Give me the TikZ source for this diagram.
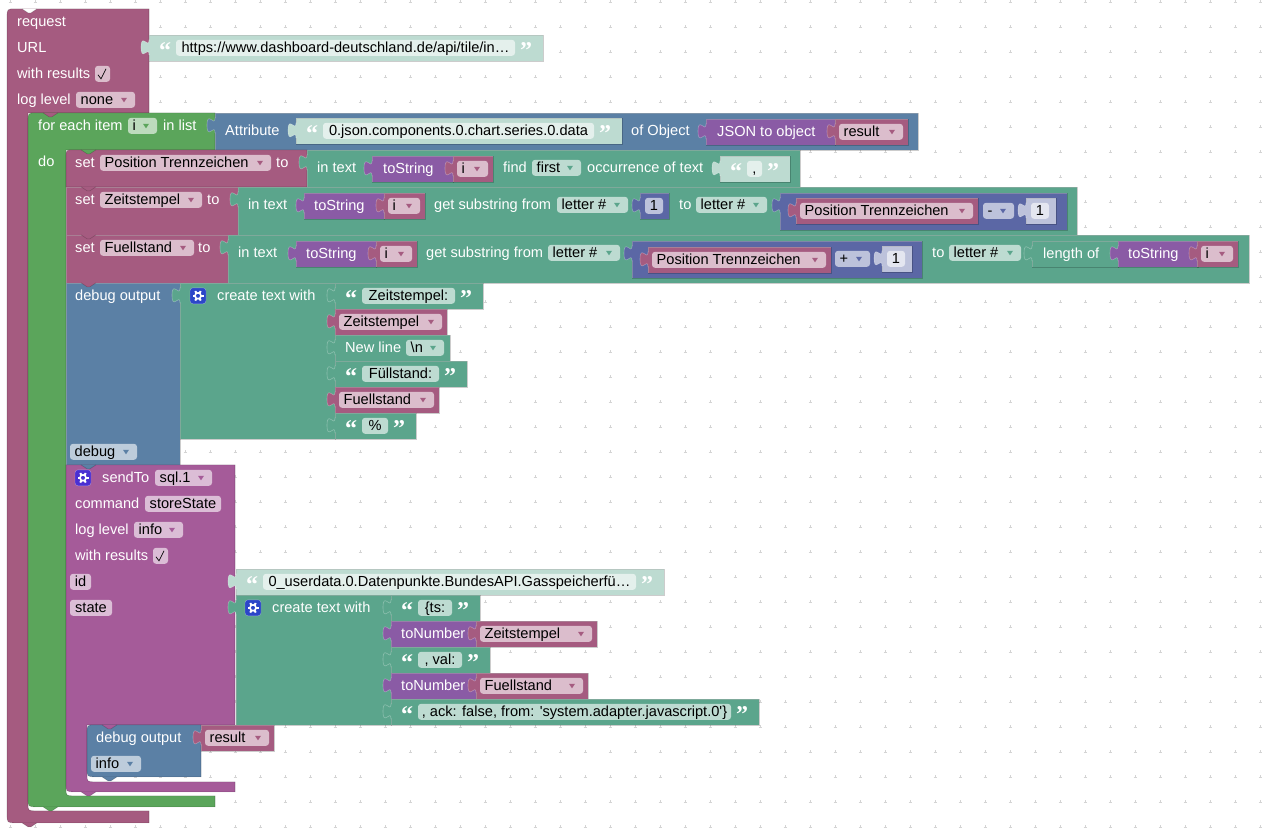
\documentclass[tikz,border=0pt]{standalone}
\usepackage{xcolor}
\usepackage{fontspec}
\setmainfont{Liberation Sans}
\newfontfamily\quotefont{Liberation Serif}
\usepackage{tikz}
\usetikzlibrary{calc}

\definecolor{varcol}{HTML}{A55B80}
\definecolor{varlight}{HTML}{DBBDCC}
\definecolor{loopcol}{HTML}{5BA55B}
\definecolor{looplight}{HTML}{BDDBBD}
\definecolor{txtcol}{HTML}{5BA58C}
\definecolor{txtlight}{HTML}{BDDBD1}
\definecolor{txtpale}{HTML}{E4F0EC}
\definecolor{mathcol}{HTML}{5B67A5}
\definecolor{mathlight}{HTML}{BDC2DB}
\definecolor{mathpale}{HTML}{E4E6F0}
\definecolor{dbgcol}{HTML}{5B80A5}
\definecolor{dbglight}{HTML}{BDCCDB}
\definecolor{sendcol}{HTML}{A55B99}
\definecolor{sendlight}{HTML}{DBBDD6}
\definecolor{funccol}{HTML}{8A5BA5}
\definecolor{gridcol}{HTML}{D4D4D4}
\definecolor{gearblue}{HTML}{2C46C8}
\definecolor{gearviolet}{HTML}{4A2FD2}

\begin{document}
\begin{tikzpicture}[x=1pt,y=-1pt]

		\tikzstyle{every node} = [inner sep=0pt, text height=10pt, text depth=0pt, font=\fontsize{14.6}{16}\selectfont]
		\tikzstyle{lab}     = [anchor=west, text=white]
		\tikzstyle{ink}     = [text=black]
		\tikzstyle{qmark}   = [anchor=west, text=white, font=\quotefont\bfseries\fontsize{24}{24}\selectfont]
		\tikzstyle{rim}     = [draw=black, draw opacity=.2, line width=.6pt]
		\tikzstyle{lit}     = [draw=white, draw opacity=.3, line width=.6pt]
		\tikzstyle{griddot} = [draw=gridcol, line width=.6pt]
		\tikzstyle{varblk}  = [fill=varcol]
		\tikzstyle{varfld}  = [fill=varlight]
		\tikzstyle{loopblk} = [fill=loopcol]
		\tikzstyle{loopfld} = [fill=looplight]
		\tikzstyle{txtblk}  = [fill=txtcol]
		\tikzstyle{txtfld}  = [fill=txtlight]
		\tikzstyle{strblk}  = [fill=txtlight]
		\tikzstyle{strfld}  = [fill=txtpale]
		\tikzstyle{mathblk} = [fill=mathcol]
		\tikzstyle{mathfld} = [fill=mathlight]
		\tikzstyle{numblk}  = [fill=mathlight]
		\tikzstyle{numfld}  = [fill=mathpale]
		\tikzstyle{dbgblk}  = [fill=dbgcol]
		\tikzstyle{dbgfld}  = [fill=dbglight]
		\tikzstyle{sendblk} = [fill=sendcol]
		\tikzstyle{sendfld} = [fill=sendlight]
		\tikzstyle{funcblk} = [fill=funccol]
		\tikzset{tabin/.pic={
			\draw[pic actions,lit] (.8,5) -- (0,5) .. controls (0,15) and (-8,-3) .. (-8,12.5) .. controls (-8,28) and (0,10) .. (0,20) -- (.8,20);
		}}
		%%Pieces of a block
		\newcommand{\blk}[5]{
			\draw[#1,rim] (#2,#3) rectangle (#4,#5);
			\draw[lit] (#2,#5) -- (#2,#3) -- (#4,#3);
		}
		\newcommand{\tabblk}[5]{
			\blk{#1}{#2}{#3}{#4}{#5}
			\pic[#1] at (#2,#3) {tabin};
		}
		\newcommand{\bump}[3]{
			\draw[#1,rim] (#2,#3) -- (#2+6,#3+4) -- (#2+9,#3+4) -- (#2+15,#3);
		}
		\newcommand{\cblk}[9]{
			\draw[#1,rim] (#2,#3+#9) .. controls (#2,#3) .. (#2+#9,#3) -- (#4,#3) -- (#4,#5) -- (#6,#5) -- (#6,#7-8) .. controls (#6,#7) .. (#6+8,#7) -- (#4,#7) -- (#4,#8) -- (#2+9,#8) .. controls (#2,#8) .. (#2,#8-9) -- cycle;
		}
		\newcommand{\fld}[6]{
			\node[#2, ink, minimum width=(#4)-(#3), minimum height=16, rounded corners=3](#1) at ({(#3+#4)/2},#5) {#6};
		}
		\newcommand{\dd}[7]{
			\fill[#2, rounded corners=3] (#4,#6-8) rectangle (#5,#6+8);
			\node[lab, ink](#1) at (#4+4.5,#6) {#7};
			\fill[#3] (#5-14,#6-2) -- (#5-8,#6-2) -- (#5-11,#6+2.5) -- cycle;
		}
		\newcommand{\varblock}[5]{
			\tabblk{varblk}{#2}{#3}{#4}{#3+26}
			\dd{#1}{varfld}{varblk}{#2+4}{#4-5}{#3+13}{#5}
		}
		\newcommand{\qstr}[7]{
			\tabblk{#2}{#4}{#5}{#6}{#5+26}
			\node[qmark](#1l) at (#4+10,#5+19) {“};
			\fld{#1}{#3}{#4+27}{#6-28}{#5+13}{#7}
			\node[qmark](#1r) at (#6-23,#5+19) {”};
		}
		\newcommand{\gear}[3]{
			\draw[fill=#1, draw=white, draw opacity=.4, rounded corners=3] (#2-8,#3-8) rectangle (#2+8,#3+8);
			\foreach \a in {0,60,...,300}
				\draw[white, line width=2pt] ($(#2,#3)+(\a:2.5)$) -- ($(#2,#3)+(\a:5.5)$);
			\draw[white, line width=1.6pt, fill=#1] (#2,#3) circle (3);
		}
		\newcommand{\tick}[3]{
			\fill[#1, rounded corners=3] (#2,#3-8) rectangle (#2+15,#3+8);
			\draw[black, line width=.7pt] (#2+3,#3+1) -- (#2+6,#3+5) -- (#2+11,#3-5);
		}

		%%Grid
		\foreach \i in {0,...,50}
			\foreach \j in {0,...,33} {
				\draw[griddot] (10+25*\i-1.5,1+25*\j) -- (10+25*\i+1.5,1+25*\j);
				\draw[griddot] (10+25*\i,1+25*\j-1.5) -- (10+25*\i,1+25*\j+1.5);
			}

		%%Request
		\cblk{varblk}{7}{8}{149}{112}{28}{810}{822}{9}
		\bump{fill=white}{22}{8}
		\bump{varblk}{22}{822}
		\node[lab](request) at (17,21) {request};
		\node[lab](url) at (17,47) {URL};
		\node[lab](withres) at (17,73) {with results};
		\tick{varfld}{95}{73}
		\node[lab](loglevel) at (17,99) {log level};
		\dd{lognone}{varfld}{varblk}{76}{135}{99}{none}
		\qstr{urlstr}{strblk}{strfld}{149}{34}{543}{https://www.dashboard-deutschland.de/api/tile/in…}

		%%For each
		\cblk{loopblk}{28}{112}{215}{149}{66}{795}{806}{9}
		\bump{varblk}{43}{112}
		\bump{loopblk}{43}{806}
		\node[lab](foreach) at (38,125) {for each item};
		\dd{loopvar}{loopfld}{loopblk}{128}{157}{125}{i}
		\node[lab](inlist) at (163,125) {in list};
		\node[lab](do) at (38,161) {do};

		%%Attribute
		\tabblk{dbgblk}{215}{112}{918}{149}
		\node[lab](attr) at (225,130) {Attribute};
		\qstr{attrstr}{strblk}{strfld}{296}{117}{622}{0.json.components.0.chart.series.0.data}
		\node[lab](ofobj) at (631,130) {of Object};
		\tabblk{funcblk}{706}{118}{835}{144}
		\node[lab](json) at (717,131) {JSON to object};
		\varblock{jsonres}{835}{118}{908}{result}

		%%Set position
		\draw[varblk,rim] (66,157) .. controls (66,149) .. (74,149) -- (307,149) -- (307,186) -- (66,186) -- cycle;
		\bump{loopblk}{81}{149}
		\node[lab](setpos) at (75,162) {set};
		\dd{posvar}{varfld}{varblk}{100}{271}{162}{Position Trennzeichen}
		\node[lab](topos) at (276,162) {to};
		\tabblk{txtblk}{307}{149}{800}{186}
		\node[lab](intexta) at (317,167) {in text};
		\tabblk{funcblk}{372}{155}{453}{181}
		\node[lab](tostra) at (383,168) {toString};
		\varblock{ia}{453}{155}{493}{i}
		\node[lab](find) at (503,167) {find};
		\dd{first}{txtfld}{txtblk}{532}{581}{167}{first}
		\node[lab](occur) at (587,167) {occurrence of text};
		\qstr{commastr}{strblk}{strfld}{720}{155}{790}{,}

		%%Set timestamp
		\blk{varblk}{66}{186}{238}{234}
		\bump{varblk}{81}{186}
		\node[lab](setzeit) at (75,199) {set};
		\dd{zeitvar}{varfld}{varblk}{100}{202}{199}{Zeitstempel}
		\node[lab](tozeit) at (207,199) {to};
		\tabblk{txtblk}{238}{186}{1077}{234}
		\node[lab](intextb) at (248,204) {in text};
		\tabblk{funcblk}{304}{192}{384}{218}
		\node[lab](tostrb) at (314,205) {toString};
		\varblock{ib}{384}{192}{425}{i}
		\node[lab](subb) at (434,204) {get substring from};
		\dd{letterb}{txtfld}{txtblk}{557}{628}{204}{letter \#}
		\tabblk{mathblk}{640}{192}{669}{218}
		\fld{oneb}{mathfld}{645}{663}{205}{1}
		\node[lab](tob) at (679,204) {to};
		\dd{letterc}{txtfld}{txtblk}{696}{767}{204}{letter \#}
		\tabblk{mathblk}{780}{192}{1067}{229}
		\varblock{posb}{796}{197}{978}{Position Trennzeichen}
		\dd{minus}{mathfld}{mathblk}{983}{1014}{210}{-}
		\tabblk{numblk}{1026}{197}{1056}{223}
		\fld{onec}{numfld}{1031}{1049}{210}{1}

		%%Set level
		\blk{varblk}{66}{234}{228}{282}
		\bump{varblk}{81}{234}
		\node[lab](setfuel) at (75,247) {set};
		\dd{fuelvar}{varfld}{varblk}{100}{194}{247}{Fuellstand}
		\node[lab](tofuel) at (198,247) {to};
		\tabblk{txtblk}{228}{234}{1249}{282}
		\node[lab](intextc) at (238,252) {in text};
		\tabblk{funcblk}{296}{240}{376}{266}
		\node[lab](tostrc) at (306,253) {toString};
		\varblock{ic}{376}{240}{417}{i}
		\node[lab](subc) at (426,252) {get substring from};
		\dd{letterd}{txtfld}{txtblk}{548}{620}{252}{letter \#}
		\tabblk{mathblk}{632}{240}{922}{277}
		\varblock{posc}{648}{246}{831}{Position Trennzeichen}
		\dd{plus}{mathfld}{mathblk}{835}{870}{258}{+}
		\tabblk{numblk}{882}{245}{912}{271}
		\fld{oned}{numfld}{887}{905}{258}{1}
		\node[lab](toc) at (932,252) {to};
		\dd{lettere}{txtfld}{txtblk}{949}{1021}{252}{letter \#}
		\tabblk{txtblk}{1032}{240}{1118}{266}
		\node[lab](lenof) at (1043,253) {length of};
		\tabblk{funcblk}{1118}{240}{1198}{266}
		\node[lab](tostrd) at (1128,253) {toString};
		\varblock{id}{1197}{240}{1238}{i}

		%%Debug output
		\blk{dbgblk}{66}{282}{180}{464}
		\bump{varblk}{81}{282}
		\node[lab](debugout) at (75,295) {debug output};
		\dd{debuglvl}{dbgfld}{dbgblk}{70}{137}{451}{debug}
		\tabblk{txtblk}{180}{282}{335}{438}
		\gear{gearblue}{198}{295}
		\node[lab](createa) at (217,295) {create text with};
		\qstr{zeitstr}{txtblk}{txtfld}{335}{282}{483}{Zeitstempel:}
		\varblock{zeitref}{335}{308}{447}{Zeitstempel}
		\tabblk{txtblk}{335}{334}{450}{360}
		\node[lab](newline) at (345,347) {New line};
		\dd{nl}{txtfld}{txtblk}{406}{444}{347}{\textbackslash n}
		\qstr{fuelstr}{txtblk}{txtfld}{335}{360}{467}{Füllstand:}
		\varblock{fuelref}{335}{386}{439}{Fuellstand}
		\qstr{pctstr}{txtblk}{txtfld}{335}{412}{416}{\%}

		%%Send to
		\cblk{sendblk}{66}{464}{235}{724}{87}{781}{791}{0}
		\bump{dbgblk}{81}{464}
		\bump{sendblk}{81}{791}
		\gear{gearviolet}{83}{477}
		\node[lab](sendto) at (102,477) {sendTo};
		\dd{sql}{sendfld}{sendblk}{155}{212}{477}{sql.1}
		\node[lab](command) at (75,503) {command};
		\fld{store}{sendfld}{145}{221}{503}{storeState}
		\node[lab](logb) at (75,529) {log level};
		\dd{loginfo}{sendfld}{sendblk}{134}{183}{529}{info}
		\node[lab](withresb) at (75,555) {with results};
		\tick{sendfld}{153}{555}
		\fld{idf}{sendfld}{70}{91}{581}{id}
		\fld{statef}{sendfld}{70}{112}{607}{state}
		\qstr{idstr}{strblk}{strfld}{236}{568}{664}{0\_userdata.0.Datenpunkte.BundesAPI.Gasspeicherfü…}
		\tabblk{txtblk}{236}{594}{391}{724}
		\gear{gearblue}{253}{607}
		\node[lab](createb) at (272,607) {create text with};
		\qstr{tsstr}{txtblk}{txtfld}{391}{594}{480}{\{ts:}
		\tabblk{funcblk}{391}{620}{476}{646}
		\node[lab](tonuma) at (401,633) {toNumber};
		\varblock{zeitnum}{476}{620}{597}{Zeitstempel}
		\qstr{valstr}{txtblk}{txtfld}{391}{646}{490}{, val:}
		\tabblk{funcblk}{391}{672}{476}{698}
		\node[lab](tonumb) at (401,685) {toNumber};
		\varblock{fuelnum}{476}{672}{588}{Fuellstand}
		\qstr{ackstr}{txtblk}{txtfld}{391}{698}{759}{, ack: false, from: \textquotesingle system.adapter.javascript.0\textquotesingle\}}

		%%Inner debug
		\draw[dbgblk,rim] (87,733) .. controls (87,724) .. (96,724) -- (201,724) -- (201,776) -- (96,776) .. controls (87,776) .. (87,767) -- cycle;
		\bump{sendblk}{102}{724}
		\bump{dbgblk}{102}{776}
		\node[lab](debugb) at (96,737) {debug output};
		\dd{debuginfo}{dbgfld}{dbgblk}{91}{141}{763}{info}
		\varblock{dbgres}{201}{724}{274}{result}

		\useasboundingbox (0,0) rectangle (1273,837);
	\end{tikzpicture}
\end{document}
